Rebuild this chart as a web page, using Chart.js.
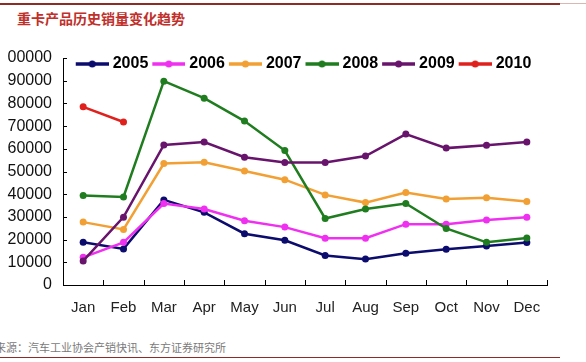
<!DOCTYPE html>
<html>
<head>
<meta charset="utf-8">
<script src="https://cdn.jsdelivr.net/npm/chart.js@4/dist/chart.umd.min.js"></script>
<style>
  html, body { margin:0; padding:0; background:#fff; }
  body { width:586px; height:362px; position:relative; overflow:hidden; font-family:"Liberation Sans", Arial, sans-serif; }
  #topline { position:absolute; left:0; top:3px; width:560px; height:2px; background:#8e2b25; }
  #topline2 { position:absolute; left:560px; top:3px; width:26px; height:1px; background:#d9b7b3; }
  #title { position:absolute; left:17px; top:8px; font:bold 14px "Noto Sans CJK SC", sans-serif; color:#c0302b; white-space:nowrap; line-height:20px; }
  #src { position:absolute; left:-5px; top:340px; font:11px "Noto Sans CJK SC", sans-serif; color:#7a7a7a; white-space:nowrap; line-height:15px; }
  #botline { position:absolute; left:0; top:357px; width:560px; height:1px; background:#8e2b25; }
  #wrap { position:absolute; left:7px; top:0; width:579px; height:330px; overflow:hidden; }
  #c { position:absolute; left:-7px; top:0; }
</style>
</head>
<body>
<div id="topline"></div><div id="topline2"></div>
<div id="title">重卡产品历史销量变化趋势</div>
<div id="wrap"><canvas id="c" width="586" height="330"></canvas></div>
<div id="src">来源：汽车工业协会产销快讯、东方证券研究所</div>
<div id="botline"></div>
<script>
const months = ['Jan','Feb','Mar','Apr','May','Jun','Jul','Aug','Sep','Oct','Nov','Dec'];
const years = ['2005','2006','2007','2008','2009','2010'];
const s2005 = [18800, 15900, 37500, 32000, 22600, 19700, 13000, 11400, 14000, 15800, 17200, 18700];
const s2006 = [12200, 18800, 35900, 33500, 28300, 25500, 20600, 20600, 26800, 26800, 28600, 29800];
const s2007 = [27700, 24500, 53500, 54100, 50200, 46400, 39700, 36300, 40700, 37900, 38400, 36800];
const s2008 = [39400, 38800, 89800, 82300, 72200, 59200, 29300, 33500, 35900, 24900, 18800, 20700];
const s2009 = [10600, 29900, 61700, 63000, 56300, 54000, 54000, 56800, 66500, 60300, 61600, 63000];
const s2010 = [78500, 71800, null, null, null, null, null, null, null, null, null, null];
const yMin = 0, yMax = 100000, yStep = 10000;
const colors = ['#0c0c6e', '#f030f0', '#f2a033', '#1f7d1f', '#68146c', '#e0201c'];
const seriesList = [s2005, s2006, s2007, s2008, s2009, s2010];

function legendIcon(color) {
  const cv = document.createElement('canvas');
  cv.width = 40; cv.height = 10;
  const g = cv.getContext('2d');
  g.strokeStyle = color; g.lineWidth = 3.5;
  g.beginPath(); g.moveTo(7, 5); g.lineTo(40, 5); g.stroke();
  g.fillStyle = color;
  g.beginPath(); g.arc(23.5, 5, 3.5, 0, Math.PI * 2); g.fill();
  return cv;
}

const datasets = years.map((yr, i) => ({
  label: yr,
  data: seriesList[i],
  borderColor: colors[i],
  backgroundColor: colors[i],
  pointBackgroundColor: colors[i],
  pointBorderColor: colors[i],
  borderWidth: 2.5,
  pointRadius: 3.5,
  pointBorderWidth: 0,
  pointHoverRadius: 3.5,
  tension: 0,
  spanGaps: false,
  order: years.length - i,
  legendIcon: legendIcon(colors[i])
}));

const tickMarks = {
  id: 'tickMarks',
  afterDraw(chart) {
    const { ctx, scales: { x, y } } = chart;
    ctx.save();
    ctx.strokeStyle = '#000';
    ctx.lineWidth = 1;
    ctx.beginPath();
    y.ticks.forEach(t => {
      const py = Math.round(y.getPixelForValue(t.value)) + 0.5;
      ctx.moveTo(x.left, py); ctx.lineTo(x.left + 4, py);
    });
    const half = (x.getPixelForValue(1) - x.getPixelForValue(0)) / 2;
    for (let i = 0; i < months.length; i++) {
      const px = Math.round(x.getPixelForValue(i) + half) + 0.5;
      ctx.moveTo(px, y.bottom); ctx.lineTo(px, y.bottom - 5);
    }
    ctx.stroke();
    ctx.restore();
  }
};

// move the (top) legend inside the plot area, centred on it
const legendInside = {
  id: 'legendInside',
  afterLayout(chart) {
    const l = chart.legend, a = chart.chartArea;
    if (!l) return;
    const dy = a.top - 3 - l.top;
    l.top += dy; l.bottom += dy;
    l.left = a.left - 6; l.right = a.right; l.width = l.right - l.left;
  }
};

new Chart(document.getElementById('c'), {
  type: 'line',
  data: { labels: months, datasets },
  options: {
    responsive: false,
    animation: false,
    devicePixelRatio: 1,
    layout: { padding: { top: 31, right: 39, left: 0, bottom: 0 } },
    plugins: {
      tooltip: { enabled: false },
      legend: {
        position: 'top',
        align: 'center',
        labels: {
          usePointStyle: true,
          pointStyleWidth: 32,
          boxHeight: 10,
          padding: 1,
          color: '#000',
          font: { family: '"Liberation Sans", Arial, sans-serif', size: 16, weight: 'bold' },
          generateLabels(chart) {
            return chart.data.datasets.map((ds, i) => ({
              text: ds.label,
              fillStyle: ds.borderColor,
              strokeStyle: ds.borderColor,
              lineWidth: 0,
              pointStyle: ds.legendIcon,
              hidden: false,
              datasetIndex: i,
              fontColor: '#000'
            }));
          }
        }
      }
    },
    scales: {
      x: {
        type: 'category',
        offset: true,
        grid: { display: false, drawTicks: false },
        border: { display: true, color: '#000', width: 1 },
        ticks: { color: '#222', padding: 14, maxRotation: 0, autoSkip: false,
                 font: { family: '"Liberation Sans", Arial, sans-serif', size: 15 } },
        afterFit(s) { s.height = 45; }
      },
      y: {
        min: yMin, max: yMax,
        grid: { display: false, drawTicks: false },
        border: { display: true, color: '#000', width: 1 },
        ticks: { stepSize: yStep, color: '#111', padding: 11, autoSkip: false,
                 font: { family: '"Liberation Sans", Arial, sans-serif', size: 16 },
                 callback: v => String(v) },
        afterFit(s) { s.width = 63; }
      }
    }
  },
  plugins: [tickMarks, legendInside]
});
</script>
</body>
</html>
